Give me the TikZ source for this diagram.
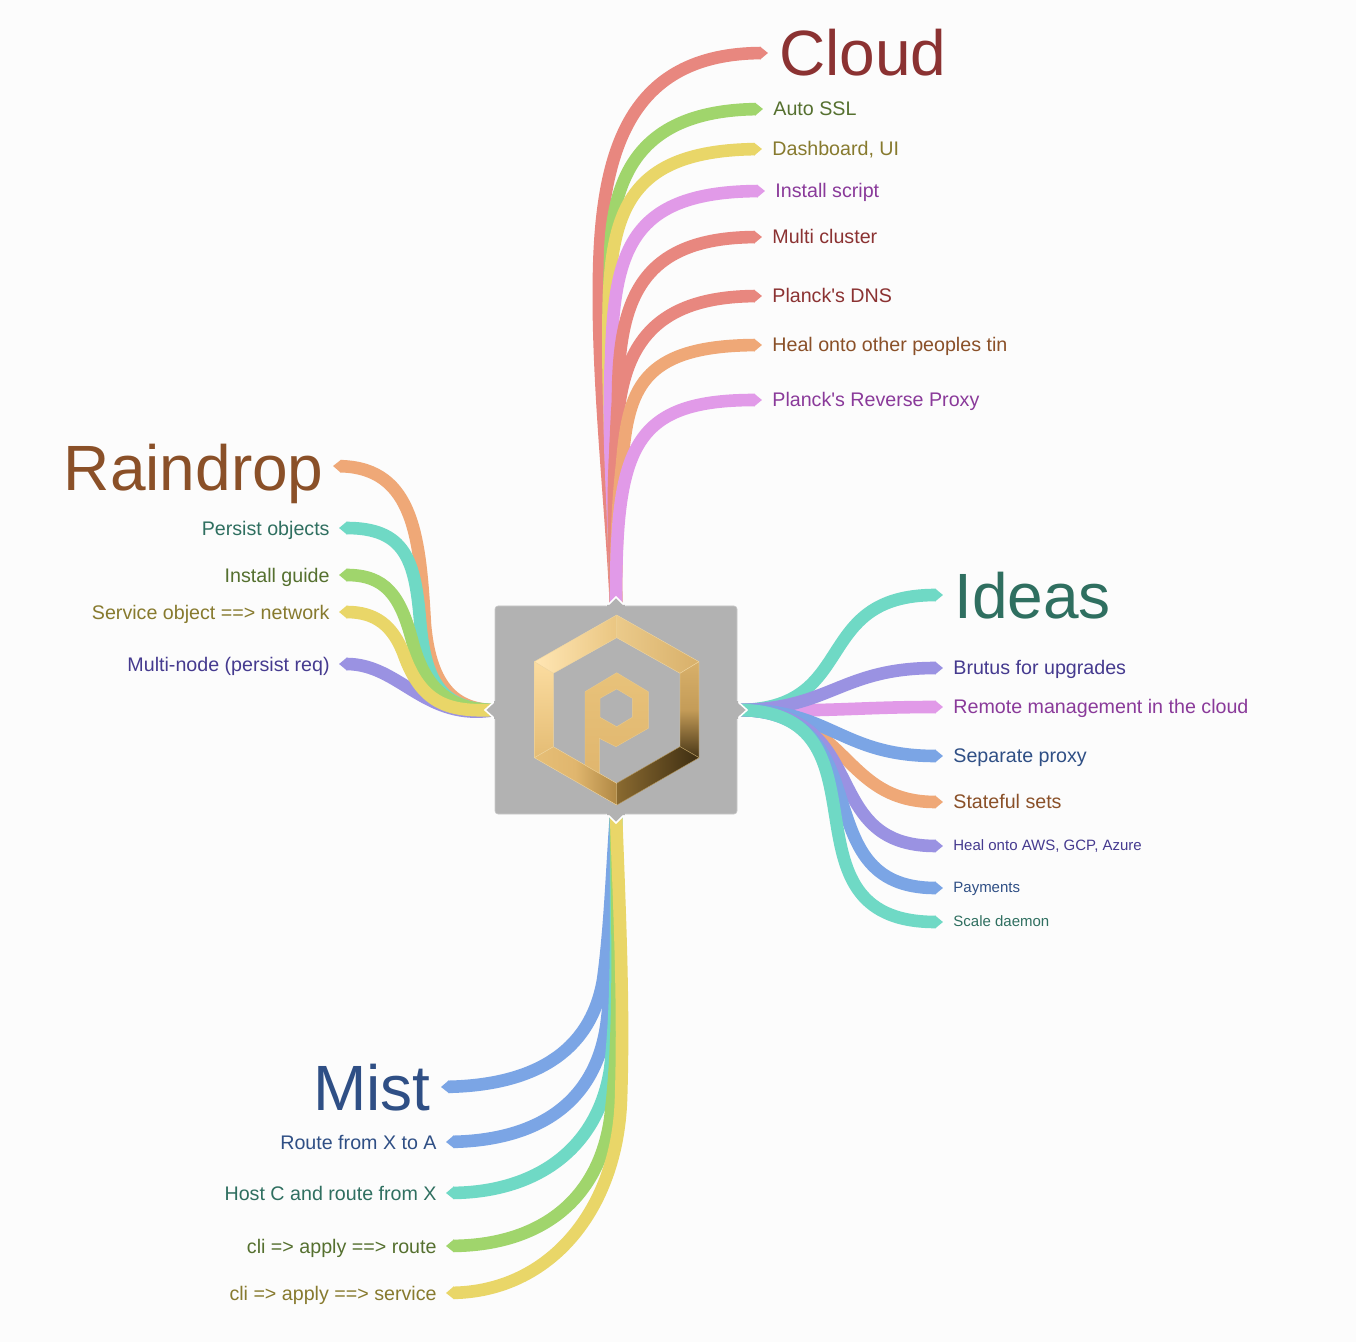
\documentclass[tikz,border=0pt]{standalone}
\usepackage{fontspec}
\setmainfont{Liberation Sans}[Ligatures=TeXOff]
\usetikzlibrary{arrows.meta}
\definecolor{rRed}{HTML}{E8877F}\definecolor{rGreen}{HTML}{A0D56C}\definecolor{rYellow}{HTML}{E9D668}
\definecolor{rPink}{HTML}{E19AE8}\definecolor{rOrange}{HTML}{EFA877}\definecolor{rTeal}{HTML}{6FD9C5}
\definecolor{rIndigo}{HTML}{9A92E2}\definecolor{rBlue}{HTML}{7BA5E5}
\definecolor{tRed}{HTML}{8B3232}\definecolor{tGreen}{HTML}{55702F}\definecolor{tYellow}{HTML}{877A2E}
\definecolor{tPink}{HTML}{8A3A9A}\definecolor{tOrange}{HTML}{8A5028}\definecolor{tTeal}{HTML}{2F6F60}
\definecolor{tIndigo}{HTML}{453A8F}\definecolor{tBlue}{HTML}{2F4F85}
\definecolor{boxgrey}{HTML}{B2B2B2}
\definecolor{gA}{HTML}{FFE6B4}\definecolor{gB}{HTML}{EAC682}\definecolor{gC}{HTML}{EBCA8A}\definecolor{gD}{HTML}{D8B06A}
\definecolor{gE}{HTML}{C49C58}\definecolor{gF}{HTML}{483616}\definecolor{gG}{HTML}{8A6A30}\definecolor{gH}{HTML}{3E2E12}
\definecolor{gI}{HTML}{E6BE76}\definecolor{gJ}{HTML}{B08844}\definecolor{gK}{HTML}{FBDCA0}\definecolor{gL}{HTML}{E4BC74}
\definecolor{gM}{HTML}{E8C27A}\definecolor{gN}{HTML}{E0B66E}\definecolor{edgeA}{HTML}{F0D6A0}\definecolor{edgeB}{HTML}{B4965A}
\tikzset{
  rib/.style={line width=6.3pt,draw=#1,line cap=butt,-{Triangle[width=0pt 1,length=4pt]}},
  big/.style={inner ysep=0pt,text height=23pt,text depth=0pt,inner xsep=5.5pt,font=\fontsize{32}{36}\selectfont},
  bigr/.style={big,text height=25pt,inner xsep=4.5pt},
  mid/.style={inner ysep=0pt,text height=6.2pt,text depth=0pt,inner xsep=5pt,font=\fontsize{9.83}{12}\selectfont},
  midr/.style={mid,text height=7.2pt,inner xsep=4.5pt},
  sml/.style={inner ysep=0pt,text height=6.2pt,text depth=2pt,inner xsep=5pt,font=\fontsize{7.5}{9}\selectfont},
  rootbox/.style={fill=boxgrey,draw=boxgrey!70!white,line width=0.3pt,rounded corners=1.5pt,minimum width=121pt,minimum height=104pt,inner sep=0pt},
  notch/.style={fill=boxgrey,draw=white,line width=0.8pt,line join=miter},
  face/.style={draw=#1,line width=0.2pt,line join=round},
}
\begin{document}
\begin{tikzpicture}[x=0.5pt,y=-0.5pt]
\useasboundingbox (0,0) rectangle (1356,1342);
\fill[white!99!black] (0,0) rectangle (1356,1342);
\node[rootbox] (root) at (616,710) {};

% labels: Cloud
\node[big,anchor=west,text=tRed] (cloud) at (768,53) {Cloud};
\node[mid,anchor=west,text=tGreen] (c1) at (763,109) {Auto SSL};
\node[mid,anchor=west,text=tYellow] (c2) at (762,149) {Dashboard, UI};
\node[mid,anchor=west,text=tPink] (c3) at (765,191) {Install script};
\node[mid,anchor=west,text=tRed] (c4) at (762,237) {Multi cluster};
\node[mid,anchor=west,text=tRed] (c5) at (762,296) {Planck's DNS};
\node[mid,anchor=west,text=tOrange] (c6) at (762,345) {Heal onto other peoples tin};
\node[mid,anchor=west,text=tPink] (c7) at (762,400) {Planck's Reverse Proxy};
% labels: Ideas
\node[big,anchor=west,text=tTeal] (ideas) at (943,595) {Ideas};
\node[mid,anchor=west,text=tIndigo] (i1) at (943,668) {Brutus for upgrades};
\node[mid,anchor=west,text=tPink] (i2) at (943,707) {Remote management in the cloud};
\node[mid,anchor=west,text=tBlue] (i3) at (943,756) {Separate proxy};
\node[mid,anchor=west,text=tOrange] (i4) at (943,802) {Stateful sets};
\node[sml,anchor=west,text=tIndigo] (i5) at (943,846) {Heal onto AWS, GCP, Azure};
\node[sml,anchor=west,text=tBlue] (i6) at (943,888) {Payments};
\node[sml,anchor=west,text=tTeal] (i7) at (943,922) {Scale daemon};
% labels: Raindrop
\node[bigr,anchor=east,text=tOrange] (rain) at (333,466) {Raindrop};
\node[midr,anchor=east,text=tTeal] (r1) at (339,528) {Persist objects};
\node[midr,anchor=east,text=tGreen] (r2) at (339,575) {Install guide};
\node[midr,anchor=east,text=tYellow] (r3) at (339,612) {Service object ==> network};
\node[midr,anchor=east,text=tIndigo] (r4) at (339,664) {Multi-node (persist req)};
% labels: Mist
\node[big,anchor=east,text=tBlue,inner xsep=5pt] (mist) at (441,1087) {Mist};
\node[midr,anchor=east,text=tBlue] (m1) at (446,1142) {Route from X to A};
\node[midr,anchor=east,text=tTeal] (m2) at (446,1193) {Host C and route from X};
\node[midr,anchor=east,text=tGreen] (m3) at (446,1246) {cli => apply ==> route};
\node[midr,anchor=east,text=tYellow] (m4) at (446,1293) {cli => apply ==> service};

% Cloud ribbons
\draw[rib=rRed] (root.north) .. controls (611,500) and (597,380) .. (599,275) .. controls (601,150) and (630,54) .. (cloud.west);
\draw[rib=rGreen] (root.north) .. controls (614,500) and (606,370) .. (610,265) .. controls (610,175) and (640,111) .. (c1.west);
\draw[rib=rYellow] (root.north) .. controls (614,500) and (606,390) .. (609,295) .. controls (613,205) and (635,151) .. (c2.west);
\draw[rib=rPink] (root.north) .. controls (614,500) and (607,440) .. (611,360) .. controls (614,250) and (630,192) .. (c3.west);
\draw[rib=rRed] (root.north) .. controls (614,520) and (614,460) .. (618,400) .. controls (618,300) and (640,238) .. (c4.west);
\draw[rib=rRed] (root.north) .. controls (614,530) and (612,490) .. (617,430) .. controls (621,350) and (650,297) .. (c5.west);
\draw[rib=rOrange] (root.north) .. controls (616,540) and (618,500) .. (622,465) .. controls (628,390) and (640,346) .. (c6.west);
\draw[rib=rPink] (root.north) .. controls (616,450) and (630,400) .. (c7.west);

% Ideas ribbons
\draw[rib=rTeal] (root.east) .. controls (860,710) and (810,595) .. (ideas.west);
\draw[rib=rPink] (root.east) .. controls (830,712) and (860,707) .. (i2.west);
\draw[rib=rIndigo] (root.east) .. controls (830,710) and (840,668) .. (i1.west);
\draw[rib=rOrange] (root.east) .. controls (850,710) and (840,802) .. (i4.west);
\draw[rib=rBlue] (root.east) .. controls (830,708) and (840,756) .. (i3.west);
\draw[rib=rIndigo] (root.east) .. controls (875,710) and (815,846) .. (i5.west);
\draw[rib=rBlue] (root.east) .. controls (885,710) and (800,888) .. (i6.west);
\draw[rib=rTeal] (root.east) .. controls (900,710) and (770,922) .. (i7.west);

% Raindrop ribbons
\draw[rib=rOrange] (root.west) .. controls (450,710) and (430,680) .. (425,625) .. controls (420,540) and (415,468) .. (rain.east);
\draw[rib=rTeal] (root.west) .. controls (440,710) and (425,680) .. (420,620) .. controls (415,560) and (405,528) .. (r1.east);
\draw[rib=rIndigo] (root.west) .. controls (425,722) and (400,664) .. (r4.east);
\draw[rib=rGreen] (root.west) .. controls (450,710) and (425,690) .. (412,640) .. controls (400,595) and (385,575) .. (r2.east);
\draw[rib=rYellow] (root.west) .. controls (450,712) and (422,705) .. (404,655) .. controls (393,625) and (375,612) .. (r3.east);

% Mist ribbons
\draw[rib=rBlue] (root.south) .. controls (612,870) and (610,930) .. (603,980) .. controls (590,1055) and (530,1085) .. (mist.east);
\draw[rib=rBlue] (root.south) .. controls (614,900) and (614,960) .. (607,1020) .. controls (597,1105) and (535,1140) .. (m1.east);
\draw[rib=rTeal] (root.south) .. controls (616,920) and (618,1000) .. (610,1070) .. controls (597,1150) and (535,1192) .. (m2.east);
\draw[rib=rGreen] (root.south) .. controls (618,950) and (620,1040) .. (610,1120) .. controls (597,1205) and (535,1245) .. (m3.east);
\draw[rib=rYellow] (root.south) .. controls (620,920) and (624,1010) .. (621,1100) .. controls (617,1210) and (550,1291) .. (m4.east);

% notches
\draw[notch] (607,606) -- (616,597) -- (625,606);
\draw[notch] (607,814) -- (616,823) -- (625,814);
\draw[notch] (495,701) -- (485,710) -- (495,719);
\draw[notch] (737,701) -- (747,710) -- (737,719);
\fill[boxgrey] (607,605) rectangle (625,607) (607,813) rectangle (625,815) (494,701) rectangle (496,719) (736,701) rectangle (738,719);

% logo
\path[face=edgeA,left color=gA,right color=gB]
  (534.3,661.7) -- (616.7,615) -- (616.7,637.7) -- (553.3,673.3) -- cycle;
\path[face=edgeA,left color=gC,right color=gD]
  (616.7,615) -- (699,661.7) -- (680,673.3) -- (616.7,637.7) -- cycle;
\path[face=edgeA,top color=gD,bottom color=gF,middle color=gE]
  (699,661.7) -- (699,757.7) -- (680,746.7) -- (680,673.3) -- cycle;
\path[face=edgeB,left color=gG,right color=gH]
  (699,757.7) -- (616.7,805) -- (616.7,783.3) -- (680,746.7) -- cycle;
\path[face=edgeA,left color=gI,right color=gJ,middle color=gN]
  (534.3,757.7) -- (616.7,805) -- (616.7,783.3) -- (599.3,773.3) -- (585,765) -- (553.3,746.7) -- cycle;
\path[face=edgeA,top color=gK,bottom color=gL]
  (534.3,661.7) -- (553.3,673.3) -- (553.3,746.7) -- (534.3,757.7) -- cycle;
\path[even odd rule,face=gC,top color=gM,bottom color=gN]
  (585,765) -- (585,691.7) -- (616.7,672.7) -- (648.3,691.7) -- (648.3,728.3) -- (616,746.7) -- (599.3,738.3) -- (599.3,773.3) -- cycle
  (616.7,689) -- (632.3,698.3) -- (632.3,717.3) -- (616.7,726.7) -- (600,717.3) -- (600,698.3) -- cycle;
\end{tikzpicture}
\end{document}
